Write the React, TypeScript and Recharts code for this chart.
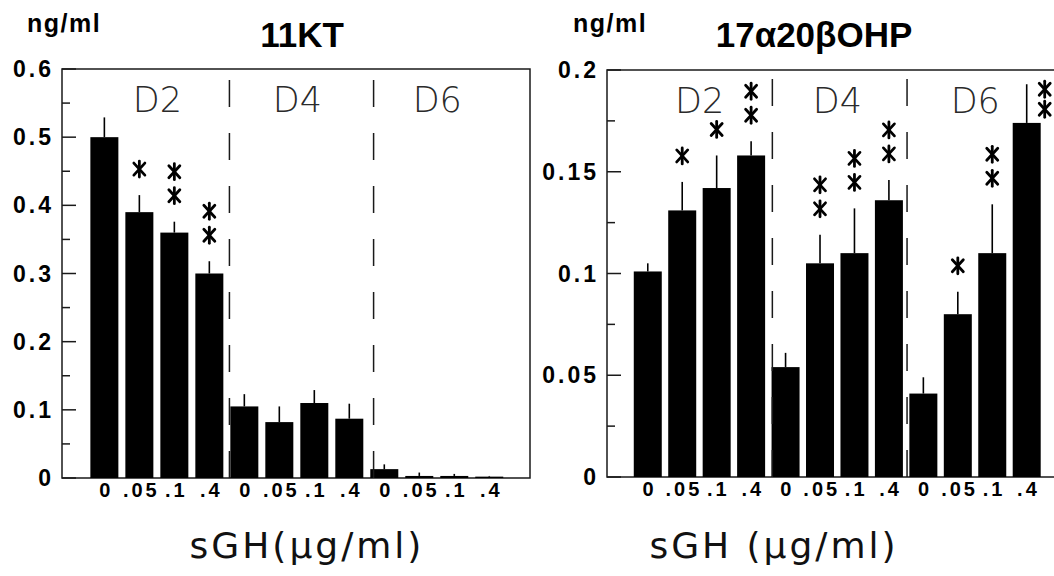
import React from 'react';
import {
  BarChart,
  Bar,
  XAxis,
  YAxis,
  ErrorBar,
  ReferenceLine,
  ReferenceArea,
} from 'recharts';

// sGH doses, repeated for each culture day
const doses = ['0', '.05', '.1', '.4', '0', '.05', '.1', '.4', '0', '.05', '.1', '.4'];
const days = ['D2', 'D4', 'D6'];

// 11KT (ng/ml)
const ktValues = [0.5, 0.39, 0.36, 0.3, 0.105, 0.082, 0.11, 0.087, 0.013, 0.003, 0.003, 0.002];
const ktErrors = [0.029, 0.025, 0.016, 0.018, 0.018, 0.023, 0.019, 0.022, 0.007, 0.005, 0.003, 0.001];
const ktStars = [0, 1, 2, 2, 0, 0, 0, 0, 0, 0, 0, 0];
const ktTicks = [0, 0.05, 0.1, 0.15, 0.2, 0.25, 0.3, 0.35, 0.4, 0.45, 0.5, 0.55, 0.6];
const ktDividers = [3.56, 7.68];

// 17a20bOHP (ng/ml)
const ohpValues = [0.101, 0.131, 0.142, 0.158, 0.054, 0.105, 0.11, 0.136, 0.041, 0.08, 0.11, 0.174];
const ohpErrors = [0.004, 0.014, 0.016, 0.007, 0.007, 0.014, 0.022, 0.01, 0.008, 0.011, 0.024, 0.019];
const ohpStars = [0, 1, 1, 2, 0, 2, 2, 2, 0, 1, 2, 2];
const ohpTicks = [0, 0.025, 0.05, 0.075, 0.1, 0.125, 0.15, 0.175, 0.2];
const ohpDividers = [3.61, 7.52];

const xTicks = doses.map((_, i) => i);
const INK = '#1a1a1a';
const bold = 'Liberation Sans, Arial, sans-serif';

const Star = ({ x, y }: { x: number; y: number }) => (
  <g stroke="#000" strokeWidth={2.8} strokeLinecap="round">
    <line x1={x} y1={y - 8} x2={x} y2={y + 8} />
    <line x1={x - 5.5} y1={y - 6} x2={x + 5.5} y2={y + 6} />
    <line x1={x + 5.5} y1={y - 6} x2={x - 5.5} y2={y + 6} />
  </g>
);

// bar rectangle plus significance marks above the error bar
const makeShape = (yMax: number) => (props: any) => {
  const { x, y, width, height, payload } = props;
  const ppu = payload.value > 0 ? height / payload.value : 0;
  const errTop = y - payload.err[1] * ppu;
  const plotTop = y - (yMax - payload.value) * ppu;
  const n = payload.stars;
  const cx = x + width / 2;
  const stacked = errTop - 26 - (n - 1) * 24 - 8 >= plotTop;
  const marks = [];
  for (let k = 0; k < n; k++) {
    const sx = stacked ? cx : x + width + 4;
    const sy = stacked ? errTop - 26 - k * 24 : errTop + 25 - k * 20;
    marks.push(<Star key={k} x={sx} y={sy} />);
  }
  return (
    <g>
      <rect x={x} y={y} width={width} height={height} fill="#000" />
      {marks}
    </g>
  );
};

const makeYTick = (gap: number) => (props: any) => {
  const { x, y, payload, index } = props;
  const major = index % 2 === 0;
  const ax = x + gap;
  return (
    <g>
      <line x1={ax} x2={ax + (major ? 14 : 8)} y1={y} y2={y} stroke={INK} strokeWidth={1.5} />
      {major && (
        <text
          x={x + 3}
          y={y}
          dy={8}
          textAnchor="end"
          fontSize={23}
          fontWeight="bold"
          fill="#000"
          letterSpacing={3}
          fontFamily={bold}
        >
          {String(payload.value)}
        </text>
      )}
    </g>
  );
};

const XTick = (props: any) => {
  const { x, y, payload } = props;
  return (
    <text
      x={x + 1.5}
      y={y}
      dy={14}
      textAnchor="middle"
      fontSize={20}
      fontWeight="bold"
      fill="#000"
      letterSpacing={3}
      fontFamily={bold}
    >
      {doses[payload.value]}
    </text>
  );
};

interface PanelProps {
  values: number[];
  errors: number[];
  stars: number[];
  ticks: number[];
  dividers: number[];
  xDomain: [number, number];
  width: number;
  margin: { top: number; right: number; bottom: number; left: number };
  yAxisWidth: number;
}

const Panel = ({ values, errors, stars, ticks, dividers, xDomain, width, margin, yAxisWidth }: PanelProps) => {
  const yMax = ticks[ticks.length - 1];
  const data = values.map((v, i) => ({ i, value: v, err: [0, errors[i]], stars: stars[i] }));

  return (
    <BarChart width={width} height={576} data={data} margin={margin}>
      <XAxis
        dataKey="i"
        type="number"
        domain={xDomain}
        ticks={xTicks}
        interval={0}
        allowDataOverflow
        axisLine={false}
        tickLine={false}
        tickSize={0}
        tickMargin={5}
        height={40}
        tick={<XTick />}
      />
      <YAxis
        type="number"
        domain={[0, yMax]}
        ticks={ticks}
        interval={0}
        width={yAxisWidth}
        axisLine={false}
        tickLine={false}
        tickSize={0}
        tickMargin={11}
        tick={makeYTick(11)}
      />
      <ReferenceArea
        x1={xDomain[0]}
        x2={xDomain[1]}
        y1={0}
        y2={yMax}
        fill="none"
        stroke={INK}
        strokeWidth={1.5}
        ifOverflow="visible"
      />
      {days.map((d, g) => (
        <ReferenceArea
          key={d}
          x1={g * 4 - 0.5}
          x2={g * 4 + 3.5}
          y1={0}
          y2={yMax}
          fill="none"
          stroke="none"
          label={{
            value: d,
            position: 'insideTop',
            offset: 18,
            fontSize: 35,
            fill: '#2a2a2a',
            fontWeight: 200,
            fontFamily: 'DejaVu Sans, sans-serif',
          }}
        />
      ))}
      {dividers.map((d) => (
        <ReferenceLine key={d} x={d} stroke={INK} strokeWidth={1.5} strokeDasharray="27 26" />
      ))}
      <Bar dataKey="value" barSize={28} isAnimationActive={false} shape={makeShape(yMax)}>
        <ErrorBar dataKey="err" width={0} stroke="#000" strokeWidth={1.6} direction="y" isAnimationActive={false} />
      </Bar>
    </BarChart>
  );
};

export default function App() {
  return (
    <div
      style={{
        position: 'fixed',
        left: 0,
        top: 0,
        width: 1054,
        height: 576,
        overflow: 'hidden',
        background: '#fff',
      }}
    >
      <div style={{ position: 'absolute', left: 0, top: 0 }}>
        <Panel
          values={ktValues}
          errors={ktErrors}
          stars={ktStars}
          ticks={ktTicks}
          dividers={ktDividers}
          xDomain={[-1.225, 12.15]}
          width={540}
          margin={{ top: 69, right: 10, bottom: 58, left: 12 }}
          yAxisWidth={50}
        />
      </div>
      <div style={{ position: 'absolute', left: 540, top: 0 }}>
        <Panel
          values={ohpValues}
          errors={ohpErrors}
          stars={ohpStars}
          ticks={ohpTicks}
          dividers={ohpDividers}
          xDomain={[-1.19, 11.96]}
          width={530}
          margin={{ top: 70, right: 10, bottom: 59, left: 12 }}
          yAxisWidth={55}
        />
      </div>
      <svg width={1054} height={576} style={{ position: 'absolute', left: 0, top: 0, pointerEvents: 'none' }}>
        <text x={27} y={32} fontSize={25} fontWeight="bold" fontFamily={bold} letterSpacing={1.5} fill="#000">ng/ml</text>
        <text x={302} y={47} fontSize={35} fontWeight="bold" fontFamily={bold} textAnchor="middle" fill="#000">11KT</text>
        <text x={573} y={32} fontSize={25} fontWeight="bold" fontFamily={bold} letterSpacing={1.5} fill="#000">ng/ml</text>
        <text x={814} y={47} fontSize={35} fontWeight="bold" fontFamily={bold} textAnchor="middle" fill="#000">17α20βOHP</text>
        <text x={307} y={558} fontSize={36} fontFamily="DejaVu Sans, sans-serif" letterSpacing={3} textAnchor="middle" fill="#111">sGH(µg/ml)</text>
        <text x={774} y={558} fontSize={36} fontFamily="DejaVu Sans, sans-serif" letterSpacing={3} textAnchor="middle" fill="#111">{'sGH\u00a0(µg/ml)'}</text>
      </svg>
    </div>
  );
}
